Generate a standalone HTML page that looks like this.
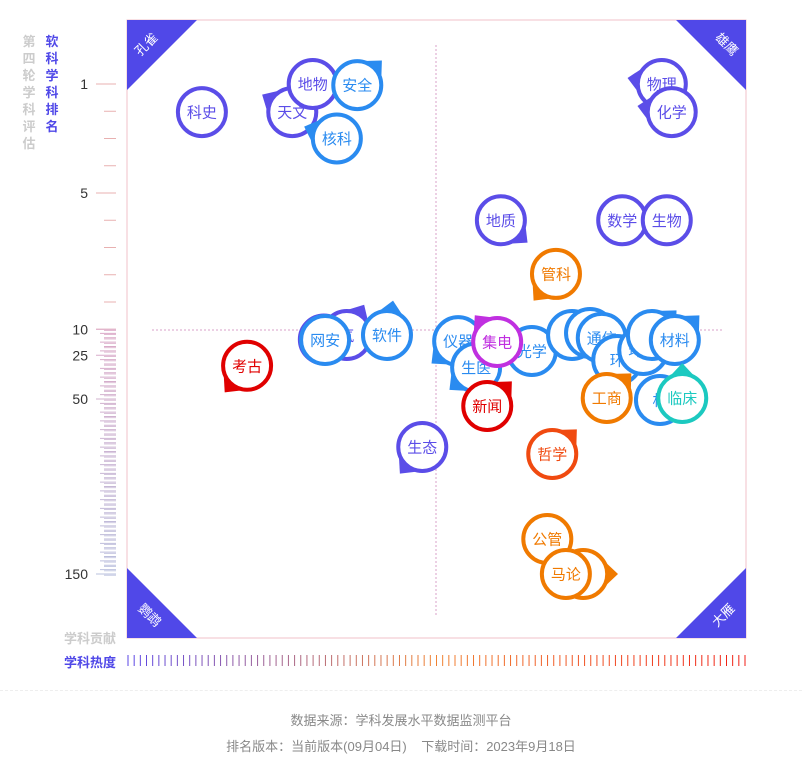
<!DOCTYPE html>
<html><head><meta charset="utf-8"><style>
html,body{margin:0;padding:0;background:#fff;width:802px;height:769px;overflow:hidden;font-family:"Liberation Sans","Noto Sans CJK SC",sans-serif}
svg text{font-family:"Liberation Sans","Noto Sans CJK SC",sans-serif}
.foot{position:absolute;left:0;width:802px;text-align:center;color:#888;font-size:13px}
</style></head><body>
<svg id="chart" width="802" height="769" style="position:absolute;left:0;top:0">
<g id="axes"></g>
<g id="bubbles"></g>
</svg>
<div style="position:absolute;left:0;top:690px;width:802px;border-top:1px dashed #eee"></div>
<div class="foot" style="top:710px">数据来源：学科发展水平数据监测平台</div>
<div class="foot" style="top:736px">排名版本：当前版本(09月04日)&nbsp;&nbsp;&nbsp;&nbsp;下载时间：2023年9月18日</div>
<script>
const names=["科史","天文","地物","安全","核科","物理","化学","地质","数学","生物","管科","网安","大气2","大气","软件","考古","仪器","光学","大数","力学","通信","交通","环境","计算","材料","机械","生医","集电","工商","临床","新闻","生态","哲学","公管","法学","马论"];
const heat=[12.1,26.7,30.0,37.2,33.9,86.4,88.0,60.4,80.0,87.2,69.3,31.8,35.5,32.0,42.0,19.4,53.5,65.4,71.9,74.8,76.7,79.2,83.4,84.8,88.5,86.1,56.4,59.8,77.5,89.7,58.2,47.7,68.7,67.9,73.7,70.9];
const ranks=[2.03,2.03,1,1.04,3.0,1,2.03,6.0,6.0,6.0,7.97,16.0,13.4,16.3,13.4,31,16.9,22.6,13.4,12.3,15.1,27.7,22,13.4,16.3,50.6,32,17.4,49.4,49.4,54,77.4,81.4,130,150,150];
const colorKeys=["p","p","p","b","b","p","p","p","p","p","o","p","p","b","b","r","b","b","b","b","b","b","b","b","b","b","b","m","o","t","r","p","h","o","o","o"];
const tails=[null,-150,null,-45,-160,-170,-170,40,null,null,130,null,-60,null,-80,130,140,null,null,null,null,null,null,-45,-45,null,140,-130,-45,-90,-45,130,-45,null,0,null];
const labels=["科史","天文","地物","安全","核科","物理","化学","地质","数学","生物","管科","","气","网安","软件","考古","仪器","光学","大","","通信","环","环境","","材料","机","生医","集电","工商","临床","新闻","生态","哲学","公管","学","马论"];
const rankTicks=[1,5,10,25,50,150];
const C={p:"#5b4de8",b:"#2a8bf0",o:"#f07a00",r:"#e00000",h:"#f04a10",m:"#c030e0",t:"#1cc9c0"};
const X0=127,X1=746,Y0=20,Y1=638;
function xs(v){return X0+v/100*(X1-X0);}
function ys(r){return r<=10?84+(r-1)*27.25:329+(r-10)*1.75;}
const NS="http://www.w3.org/2000/svg";
function mk(tag,attrs,parent){const e=document.createElementNS(NS,tag);for(const k in attrs)e.setAttribute(k,attrs[k]);parent.appendChild(e);return e;}
const ax=document.getElementById('axes');
// plot frame
let fr=mk('rect',{x:X0,y:Y0,width:X1-X0,height:Y1-Y0,fill:'none',stroke:'#f0c0c8','stroke-width':1},ax);

let vl=mk('line',{x1:436,y1:45,x2:436,y2:615,stroke:'#d8a0c8','stroke-dasharray':'2,2'},ax);

let hl=mk('line',{x1:152,y1:330,x2:722,y2:330,stroke:'#d8a0c8','stroke-dasharray':'2,2'},ax);

// corners
const corners=[["孔雀",`${X0},${Y0} ${X0+70},${Y0} ${X0},${Y0+70}`,X0+20,Y0+25,-45],["雄鹰",`${X1},${Y0} ${X1-70},${Y0} ${X1},${Y0+70}`,X1-20,Y0+25,45],["鹦鹉",`${X0},${Y1} ${X0+70},${Y1} ${X0},${Y1-70}`,X0+22,Y1-22,45],["大雁",`${X1},${Y1} ${X1-70},${Y1} ${X1},${Y1-70}`,X1-22,Y1-22,-45]];
corners.forEach(c=>{const g=mk('g',{},ax);
mk('polygon',{points:c[1],fill:'#5048e8'},g);const t=mk('text',{x:c[2],y:c[3],fill:'#fff','font-size':13,'text-anchor':'middle','dominant-baseline':'middle',transform:`rotate(${c[4]} ${c[2]} ${c[3]})`},g);t.textContent=c[0];});
// left axis
for(let r=1;r<=10;r+=0.5){const y=ys(r);const major=rankTicks.includes(r);if(r%1!==0)continue;
 mk('line',{x1:major?96:104,x2:116,y1:y,y2:y,stroke:'#e8b0b0','stroke-width':1},ax);}
for(let r=10;r<=150;r+=2.5){const y=ys(r);const major=rankTicks.includes(r);const t=Math.round((r-10)/2.5);
 const col=`rgb(${220-t*0.6|0},${170+t*0.4|0},${200+t*0.4|0})`;
 mk('line',{x1:major?96:(t%2?100:104),x2:116,y1:y,y2:y,stroke:col,'stroke-width':1},ax);
 mk('line',{x1:104,x2:116,y1:y+1.75*0.7,y2:y+1.75*0.7,stroke:col,'stroke-width':0.8},ax);}
rankTicks.forEach(r=>{const t=mk('text',{x:88,y:ys(r)+5,fill:'#333','font-size':14,'text-anchor':'end'},ax);t.textContent=r;});
// vertical titles
const v1="第四轮学科评估",v2="软科学科排名";
[...v1].forEach((ch,i)=>{const t=mk('text',{x:29,y:46+i*17,fill:'#ccc','font-size':13,'font-weight':'bold','text-anchor':'middle'},ax);t.textContent=ch;});
[...v2].forEach((ch,i)=>{const t=mk('text',{x:52,y:46+i*17,fill:'#5048e8','font-size':13,'font-weight':'bold','text-anchor':'middle'},ax);t.textContent=ch;});
let t1=mk('text',{x:116,y:643,fill:'#ccc','font-size':13,'font-weight':'bold','text-anchor':'end'},ax);t1.textContent='学科贡献';
let t2=mk('text',{x:116,y:667,fill:'#5048e8','font-size':13,'font-weight':'bold','text-anchor':'end'},ax);t2.textContent='学科热度';
// heat ticks
for(let i=0;i<=100;i++){const x=128+i*6.17;const f=i/100;
 const r=f<0.5?90+f*2*150:240; const g=f<0.5?70+f*2*60:130-(f-0.5)*2*100; const b=f<0.5?230-f*2*180:50-(f-0.5)*2*30;
 mk('line',{x1:x,x2:x,y1:655,y2:666,stroke:`rgb(${r|0},${g|0},${b|0})`,'stroke-width':1},ax);}
// bubbles
const bg=document.getElementById('bubbles');
const R=24;
names.forEach((n,i)=>{const cx=xs(heat[i]),cy=ys(ranks[i]);const col=C[colorKeys[i]];
 const g=mk('g',{},bg);
 
 
 if(tails[i]!==null){const a=tails[i]*Math.PI/180;const d=R*1.45;
  const tx=cx+Math.cos(a)*d,ty=cy+Math.sin(a)*d;
  const a1=a-0.7,a2=a+0.7;
  mk('polygon',{points:`${tx},${ty} ${cx+Math.cos(a1)*R},${cy+Math.sin(a1)*R} ${cx+Math.cos(a2)*R},${cy+Math.sin(a2)*R}`,fill:col},g);}
 mk('circle',{cx:cx,cy:cy,r:R,fill:'#fff',stroke:col,'stroke-width':4},g);
 const t=mk('text',{x:cx,y:cy+5.5,fill:col,'font-size':15,'text-anchor':'middle'},g);t.textContent=labels[i];
});
</script>
</body></html>
